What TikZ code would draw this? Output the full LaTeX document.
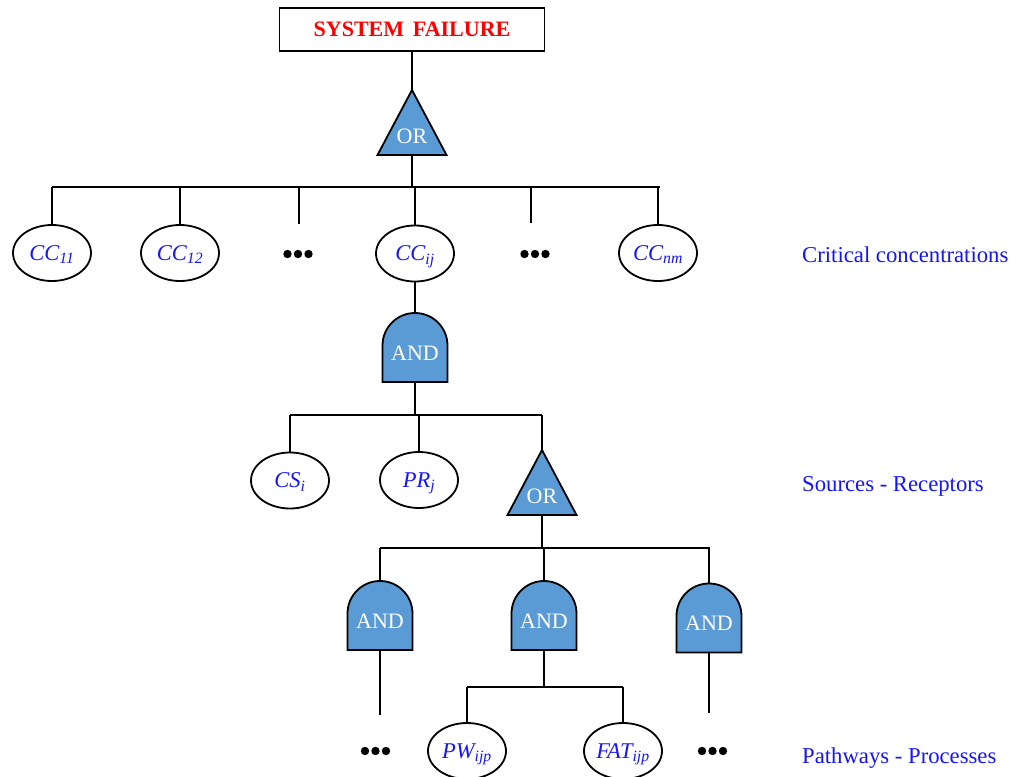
\documentclass[tikz,border=0pt]{standalone}
\usepackage{fontspec}
\setmainfont{Liberation Serif}
\usetikzlibrary{shapes.geometric,backgrounds}
\definecolor{gateblue}{HTML}{5B9BD5}
\definecolor{txtblue}{RGB}{20,20,255}
\begin{document}
\begin{tikzpicture}[x=1pt,y=-1pt,
  wire/.style={draw,line width=1.8pt},
  topbox/.style={draw,line width=1.8pt,rectangle,minimum width=265pt,minimum height=43pt,
    inner sep=0pt,text=red,font=\fontsize{22}{26}\selectfont\bfseries},
  orgate/.style={rectangle,minimum width=69pt,minimum height=65pt,inner sep=0pt,outer sep=0pt,
    text=white,font=\fontsize{22}{26}\selectfont,text height=41pt,text depth=0pt},
  andgate/.style={rectangle,minimum width=65pt,minimum height=69pt,inner sep=0pt,outer sep=0pt,
    text=white,font=\fontsize{22}{26}\selectfont,text height=25pt,text depth=0pt},
  event/.style={draw,line width=1.8pt,ellipse,minimum width=78pt,minimum height=56pt,
    inner sep=0pt,text=txtblue,font=\fontsize{22.5}{26}\selectfont\itshape,text depth=0pt},
  level/.style={anchor=base west,inner sep=0pt,text=txtblue,
    font=\fontsize{22.7}{27}\selectfont},
  gateshape/.style={draw,fill=gateblue,line width=1.8pt,line join=miter},
  dots/.pic={\foreach \dx in {-10.5,0,10.5} \fill (\dx,0) circle[radius=4.2pt];}
]
\useasboundingbox (0,0) rectangle (1011,776);

% top event and first OR gate
\node[topbox] (top) at (412,29.5) {SYSTEM\hspace{0.4em}FAILURE};
\node[orgate] (or1) at (412,122.5) {OR};

% critical concentrations
\node[event] (cc11) at (52,253) {CC\textsubscript{11}};
\node[event] (cc12) at (180,253) {CC\textsubscript{12}};
\node[event] (ccij) at (415,253.5) {CC\textsubscript{ij}};
\node[event] (ccnm) at (658,253) {CC\textsubscript{nm}};
\pic at (298,254) {dots};
\pic at (535,254) {dots};

% sources - receptors
\node[andgate] (and0) at (415,347.5) {AND};
\node[event] (csi) at (290,480.5) {CS\textsubscript{i}};
\node[event] (prj) at (419,480) {PR\textsubscript{j}};
\node[orgate] (or2) at (542,482.5) {OR};

% pathways - processes
\node[andgate] (and1) at (380,615.5) {AND};
\node[andgate] (and2) at (544,615.5) {AND};
\node[andgate] (and3) at (709,618) {AND};
\node[event] (pw) at (467,751) {PW\textsubscript{ijp}};
\node[event] (fat) at (623,751) {FAT\textsubscript{ijp}};
\pic at (375.5,751) {dots};
\pic at (712.5,751) {dots};

% gate bodies behind their labels
\begin{pgfonlayer}{background}
  \foreach \g in {or1,or2}
    \draw[gateshape] (\g.north) -- (\g.south east) -- (\g.south west) -- cycle;
  \foreach \g in {and0,and1,and2,and3}
    \draw[gateshape] (\g.south west) -- ([yshift=-32.5pt]\g.north west)
      arc[start angle=180,end angle=0,radius=32.5pt] -- (\g.south east) -- cycle;
\end{pgfonlayer}

% buses and free ends of the stubs
\coordinate (b1l) at (52,187);  \coordinate (b1r) at (660,187);
\coordinate (b2l) at (290,415); \coordinate (b2r) at (542,415);
\coordinate (b3l) at (380,548); \coordinate (b3r) at (710,548);
\coordinate (b4l) at (467,687); \coordinate (b4r) at (623,687);
\coordinate (s1) at (299,224);
\coordinate (s2) at (531,223);
\coordinate (s3) at (377,715);
\coordinate (s4) at (709,713);

% connectors
\draw[wire] (top.south) -- (or1.north);
\draw[wire] (b1l) -- (b1r);
\draw[wire] (or1.south) -- (or1.south |- b1l);
\foreach \n in {cc11,cc12,ccij,ccnm} \draw[wire] (\n.north) -- (\n.north |- b1l);
\draw[wire] (s1) -- (s1 |- b1l);
\draw[wire] (s2) -- (s2 |- b1l);

\draw[wire] (ccij.south) -- (and0.north);
\draw[wire] (b2l) -- (b2r);
\draw[wire] (and0.south) -- (and0.south |- b2l);
\foreach \n in {csi,prj,or2} \draw[wire] (\n.north) -- (\n.north |- b2l);

\draw[wire] (b3l) -- (b3r);
\draw[wire] (or2.south) -- (or2.south |- b3l);
\foreach \n in {and1,and2,and3} \draw[wire] (\n.north) -- (\n.north |- b3l);
\draw[wire] (and1.south) -- (and1.south |- s3);
\draw[wire] (and3.south) -- (and3.south |- s4);

\draw[wire] (b4l) -- (b4r);
\draw[wire] (and2.south) -- (and2.south |- b4l);
\foreach \n in {pw,fat} \draw[wire] (\n.north) -- (\n.north |- b4l);

% level captions
\node[level] (lv1) at (802,262) {Critical concentrations};
\node[level] (lv2) at (802,491) {Sources - Receptors};
\node[level] (lv3) at (802,763) {Pathways - Processes};
\end{tikzpicture}
\end{document}
